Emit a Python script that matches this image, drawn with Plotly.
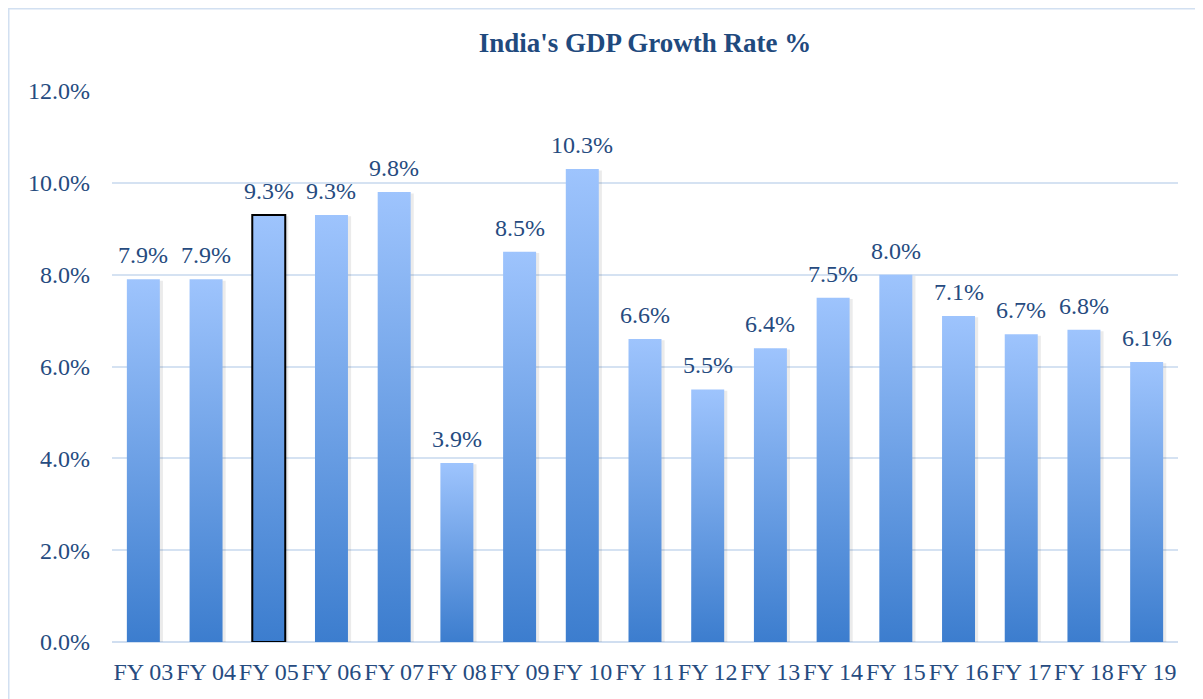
import plotly.graph_objects as go

categories = ["FY 03", "FY 04", "FY 05", "FY 06", "FY 07", "FY 08", "FY 09", "FY 10", "FY 11",
              "FY 12", "FY 13", "FY 14", "FY 15", "FY 16", "FY 17", "FY 18", "FY 19"]
growth = [7.9, 7.9, 9.3, 9.3, 9.8, 3.9, 8.5, 10.3, 6.6, 5.5, 6.4, 7.5, 8.0, 7.1, 6.7, 6.8, 6.1]
y_ticks = [0, 2, 4, 6, 8, 10, 12]
y_ticktext = ["0.0%", "2.0%", "4.0%", "6.0%", "8.0%", "10.0%", "12.0%"]
highlight = "FY 05"

W, H = 1203, 699
L, R, T, B = 104, 33, 83, 65
pw, ph = W - L - R, H - T - B

text_col = "#264b7f"
serif = "Liberation Serif, Times New Roman, serif"
half = 0.263

fig = go.Figure()
for i, (cat, v) in enumerate(zip(categories, growth)):
    # soft shadow
    fig.add_trace(go.Scatter(
        x=[i - half + 0.03, i + half + 0.05, i + half + 0.05, i - half + 0.03, i - half + 0.03],
        y=[0, 0, v - 0.03, v - 0.03, 0],
        fill="toself", fillcolor="rgba(0,0,0,0.08)", mode="lines",
        line=dict(width=0), hoverinfo="skip", showlegend=False))
    fig.add_trace(go.Scatter(
        x=[i - half, i + half, i + half, i - half, i - half],
        y=[0, 0, v, v, 0],
        fill="toself",
        fillgradient=dict(type="vertical", start=0, stop=v,
                          colorscale=[[0, "#3c7dce"], [1, "#9ec4fd"]]),
        mode="lines",
        line=dict(width=2 if cat == highlight else 0, color="#000000"),
        name=cat, showlegend=False,
        hovertemplate=cat + ": %{customdata}<extra></extra>",
        customdata=[f"{v:.1f}%"] * 5))
    fig.add_annotation(x=i, y=v, text=f"{v:.1f}%", showarrow=False,
                       yanchor="bottom", yshift=9,
                       font=dict(family=serif, size=24, color=text_col))

fig.update_layout(
    width=W, height=H,
    margin=dict(l=L, r=R, t=T, b=B),
    paper_bgcolor="white", plot_bgcolor="white",
    title=dict(text="<b>India's GDP Growth Rate %</b>", x=0.5, xref="paper",
               y=1 - 35 / H, yanchor="middle",
               font=dict(family=serif, size=27, color="#1f4a7e")),
    xaxis=dict(range=[-0.5, len(categories) - 0.5], tickmode="array",
               tickvals=list(range(len(categories))), ticktext=categories,
               showgrid=False, zeroline=False, showline=False, ticks="",
               ticklabelstandoff=13,
               tickfont=dict(family=serif, size=24, color=text_col)),
    yaxis=dict(range=[0, 12], tickmode="array", tickvals=y_ticks, ticktext=y_ticktext,
               showgrid=True, gridcolor="#d5e2f2", gridwidth=1.5,
               zeroline=True, zerolinecolor="#d0def0", zerolinewidth=2,
               showline=False, ticks="", ticklabelstandoff=21,
               tickfont=dict(family=serif, size=24, color=text_col)),
)

# outer chart border (top & left visible)
x0 = (0.75 - L) / pw
y1 = (H - B - 0.75) / ph
fig.add_shape(type="rect", xref="paper", yref="paper",
              x0=x0, x1=(W + 20 - L) / pw, y0=-(B + 20) / ph, y1=y1,
              line=dict(color="#d2e0f1", width=1.5), layer="below")

fig.write_html("out.html")
